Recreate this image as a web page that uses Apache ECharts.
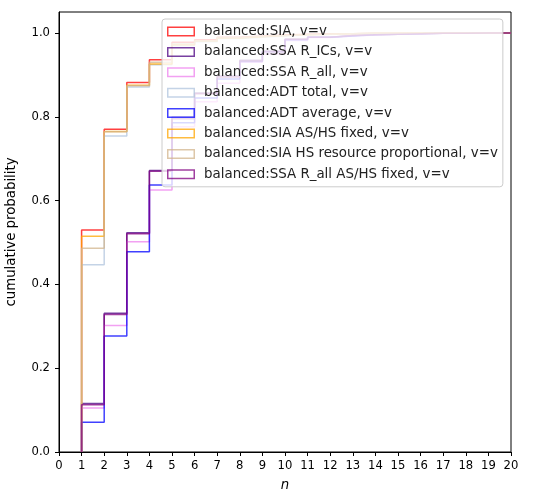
<!DOCTYPE html>
<html>
<head>
<meta charset="utf-8">
<script src="https://cdn.jsdelivr.net/npm/echarts@6/dist/echarts.min.js"></script>
<style>
  html, body { margin: 0; padding: 0; background: #fff; }
  #chart { width: 538px; height: 502px; }
</style>
</head>
<body>
<div id="chart"></div>
<script>
// cumulative probability per bin, bins start at n = 1, 2, 3, ...
var binStarts = [1, 2, 3, 4, 5, 6, 7, 8, 9, 10, 11, 12, 13, 14, 15, 16, 17, 18, 19];

var siaVals      = [0.530, 0.770, 0.882, 0.936, 0.978, 0.984, 0.990, 0.993, 0.995, 0.997, 0.998, 0.998, 0.999, 0.999, 1.0, 1.0, 1.0, 1.0, 1.0];
var ssaIcsVals   = [0.116, 0.331, 0.523, 0.672, 0.800, 0.857, 0.897, 0.935, 0.957, 0.985, 0.990, 0.994, 0.996, 0.997, 0.998, 0.999, 0.999, 1.0, 1.0];
var ssaAllVals   = [0.105, 0.302, 0.502, 0.625, 0.776, 0.836, 0.880, 0.930, 0.950, 0.982, 0.989, 0.993, 0.995, 0.997, 0.998, 0.999, 0.999, 1.0, 1.0];
var adtTotVals   = [0.447, 0.754, 0.871, 0.924, 0.970, 0.979, 0.987, 0.990, 0.993, 0.996, 0.997, 0.998, 0.999, 0.999, 1.0, 1.0, 1.0, 1.0, 1.0];
var adtAvgVals   = [0.071, 0.277, 0.478, 0.637, 0.786, 0.845, 0.890, 0.932, 0.955, 0.984, 0.990, 0.993, 0.996, 0.997, 0.998, 0.999, 0.999, 1.0, 1.0];
var siaFixVals   = [0.515, 0.765, 0.875, 0.926, 0.972, 0.981, 0.988, 0.991, 0.994, 0.996, 0.997, 0.998, 0.999, 0.999, 1.0, 1.0, 1.0, 1.0, 1.0];
var siaPropVals  = [0.486, 0.764, 0.874, 0.930, 0.974, 0.981, 0.989, 0.992, 0.994, 0.996, 0.997, 0.998, 0.999, 0.999, 1.0, 1.0, 1.0, 1.0, 1.0];
var ssaFixVals   = [0.113, 0.328, 0.521, 0.670, 0.795, 0.855, 0.895, 0.933, 0.955, 0.985, 0.990, 0.994, 0.996, 0.997, 0.998, 0.999, 0.999, 1.0, 1.0];

var names = [
  'balanced:SIA, v=v',
  'balanced:SSA R_ICs, v=v',
  'balanced:SSA R_all, v=v',
  'balanced:ADT total, v=v',
  'balanced:ADT average, v=v',
  'balanced:SIA AS/HS fixed, v=v',
  'balanced:SIA HS resource proportional, v=v',
  'balanced:SSA R_all AS/HS fixed, v=v'
];
var colors = ['#ff0000', '#4b0082', '#ee82ee', '#b0c4de', '#0000ff', '#ffa500', '#d2b48c', '#800080'];
var allVals = [siaVals, ssaIcsVals, ssaAllVals, adtTotVals, adtAvgVals, siaFixVals, siaPropVals, ssaFixVals];

// hollow rectangle, like a step-histogram patch in the legend
var hollowRect = 'path://M0,0H28V10H0Z M1.5,1.5V8.5H26.5V1.5Z';

function stepPoints(vals) {
  // start at (first bin, 0), then each bin's value placed at the next edge (step: 'start')
  var pts = [[binStarts[0], 0]];
  for (var i = 0; i < vals.length; i++) {
    pts.push([binStarts[i] + 1, vals[i]]);
  }
  return pts;
}

var series = [];
for (var i = 0; i < names.length; i++) {
  series.push({
    name: names[i],
    type: 'line',
    step: 'start',
    symbol: 'none',
    data: stepPoints(allVals[i]),
    lineStyle: { color: colors[i], width: 1.5, opacity: 0.75 },
    itemStyle: { color: colors[i], opacity: 0.75 },
    emphasis: { disabled: true },
    animation: false
  });
}

var chart = echarts.init(document.getElementById('chart'));
chart.setOption({
  animation: false,
  grid: {
    left: 59, right: 27, top: 12, bottom: 50,
    outerBoundsMode: 'none', containLabel: false,
    show: true, borderColor: '#000', borderWidth: 1, backgroundColor: 'transparent'
  },
  legend: {
    orient: 'vertical',
    left: 162, top: 19,
    padding: [6, 5, 6, 5],
    itemWidth: 28, itemHeight: 10, itemGap: 7.4,
    backgroundColor: 'rgba(255,255,255,0.8)',
    borderColor: '#cccccc', borderWidth: 1, borderRadius: 3,
    textStyle: { fontFamily: 'DejaVu Sans', fontSize: 13.4, color: '#222', padding: [0, 0, 0, 4] },
    data: names.map(function (n) { return { name: n, icon: hollowRect }; })
  },
  xAxis: {
    type: 'value', min: 0, max: 20, interval: 1,
    name: 'n', nameLocation: 'middle', nameGap: 27,
    nameTextStyle: { fontFamily: 'DejaVu Sans', fontSize: 13.3, fontStyle: 'italic', color: '#000' },
    axisLine: { lineStyle: { color: '#000' } },
    axisTick: { show: true, length: 4, lineStyle: { color: '#000' } },
    axisLabel: { fontFamily: 'DejaVu Sans', fontSize: 11.6, color: '#000', margin: 8 },
    splitLine: { show: false }
  },
  yAxis: {
    type: 'value', min: 0, max: 1.05, interval: 0.2,
    name: 'cumulative probability', nameLocation: 'middle', nameGap: 41,
    nameTextStyle: { fontFamily: 'DejaVu Sans', fontSize: 13.3, color: '#000' },
    axisLine: { show: true, lineStyle: { color: '#000' } },
    axisTick: { show: true, length: 4, lineStyle: { color: '#000' } },
    axisLabel: {
      fontFamily: 'DejaVu Sans', fontSize: 11.6, color: '#000', margin: 9,
      showMaxLabel: false,
      formatter: function (v) { return v.toFixed(1); }
    },
    splitLine: { show: false }
  },
  series: series
});
</script>
</body>
</html>
